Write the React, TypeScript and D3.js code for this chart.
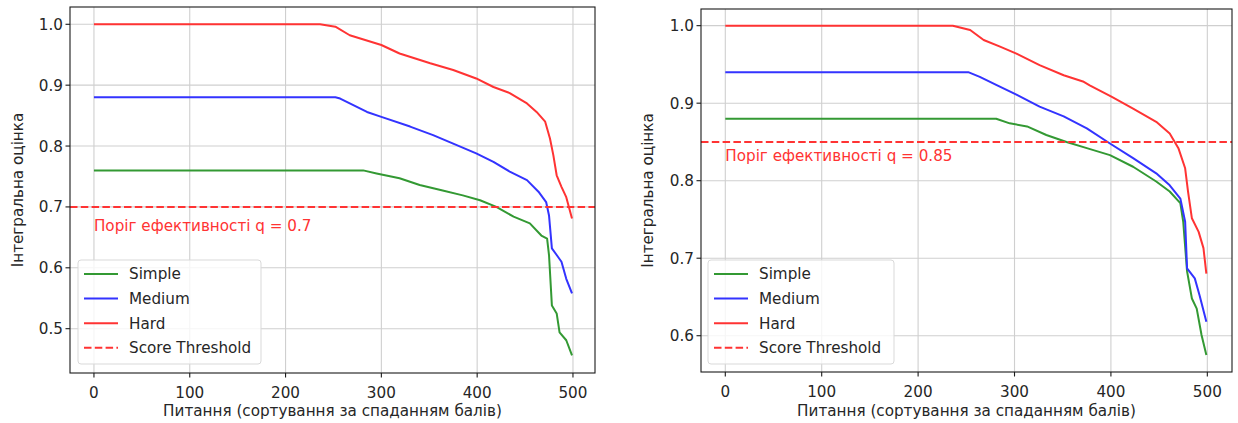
import React from "react";
import * as d3 from "d3";

type Pt = [number, number];

const SERIES_NAMES = ["Simple", "Medium", "Hard"];
const THRESHOLD_NAME = "Score Threshold";
const X_LABEL = "Питання (сортування за спаданням балів)";
const Y_LABEL = "Інтегральна оцінка";
const X_TICKS = [0, 100, 200, 300, 400, 500];
const LEFT_Y_TICKS = [0.5, 0.6, 0.7, 0.8, 0.9, 1.0];
const RIGHT_Y_TICKS = [0.6, 0.7, 0.8, 0.9, 1.0];
const LEFT_THRESHOLD = 0.7;
const RIGHT_THRESHOLD = 0.85;

const LEFT_SIMPLE: Pt[] = [[0,0.76],[281,0.76],[295,0.755],[319,0.747],[340,0.736],[364,0.727],[385,0.719],[403,0.711],[420,0.700],[438,0.684],[455,0.673],[467,0.653],[473,0.648],[475,0.621],[478,0.538],[483,0.525],[486,0.494],[493,0.481],[499,0.456]];
const LEFT_MEDIUM: Pt[] = [[0,0.88],[252,0.88],[257,0.878],[285,0.856],[300,0.848],[330,0.832],[354,0.818],[375,0.804],[399,0.788],[417,0.774],[434,0.758],[452,0.744],[464,0.725],[472,0.708],[475,0.686],[478,0.632],[483,0.621],[488,0.610],[493,0.582],[499,0.558]];
const LEFT_HARD: Pt[] = [[0,1.0],[236,1.0],[252,0.996],[267,0.982],[300,0.966],[319,0.952],[351,0.936],[375,0.925],[399,0.911],[417,0.897],[434,0.887],[452,0.870],[462,0.856],[471,0.840],[476,0.8125],[479.5,0.785],[483,0.752],[488,0.733],[493,0.716],[499,0.681]];

const RIGHT_SIMPLE: Pt[] = [[0,0.88],[281,0.88],[295,0.874],[313,0.870],[333,0.859],[354,0.850],[375,0.842],[399,0.833],[423,0.818],[447,0.799],[461,0.786],[472,0.771],[475,0.747],[479,0.683],[484,0.648],[489,0.635],[494,0.601],[499,0.575]];
const RIGHT_MEDIUM: Pt[] = [[0,0.94],[252,0.94],[264,0.934],[281,0.9235],[302,0.911],[326,0.8955],[351,0.883],[375,0.8676],[399,0.848],[423,0.829],[447,0.8095],[461,0.794],[472,0.777],[477,0.747],[479,0.687],[487,0.674],[492,0.652],[499,0.618]];
const RIGHT_HARD: Pt[] = [[0,1.0],[236,1.0],[254,0.9945],[268,0.9815],[285,0.973],[302,0.964],[326,0.949],[351,0.936],[371,0.928],[378,0.923],[401,0.908],[423,0.893],[447,0.876],[461,0.861],[470,0.842],[477,0.816],[480,0.786],[484,0.7515],[491,0.734],[496,0.713],[499,0.680]];

const COLORS = ["#339933", "#3333ff", "#ff3333"];
const FONT = "DejaVu Sans, Verdana, sans-serif";
const FS = 15.2;

interface PanelProps {
  box: { left: number; top: number; right: number; bottom: number };
  xDomain: [number, number];
  yDomain: [number, number];
  yTicks: number[];
  series: Pt[][];
  threshold: number;
  thresholdLabelY: number;
  legend: { x: number; y: number; w: number; h: number };
  yLabelX: number;
}

function Panel(p: PanelProps) {
  const { box } = p;
  const x = d3.scaleLinear().domain(p.xDomain).range([box.left, box.right]);
  const y = d3.scaleLinear().domain(p.yDomain).range([box.bottom, box.top]);
  const line = d3.line<Pt>().x((d) => x(d[0])).y((d) => y(d[1]));
  const clipId = `clip-${box.left}`;
  const rowH = 24.6;
  return (
    <g fontFamily={FONT} fontSize={FS} fill="#262626">
      <defs>
        <clipPath id={clipId}>
          <rect x={box.left} y={box.top} width={box.right - box.left} height={box.bottom - box.top} />
        </clipPath>
      </defs>
      {X_TICKS.map((t) => (
        <line key={"gx" + t} x1={x(t)} x2={x(t)} y1={box.top} y2={box.bottom} stroke="#cfcfcf" strokeWidth={1.1} />
      ))}
      {p.yTicks.map((t) => (
        <line key={"gy" + t} x1={box.left} x2={box.right} y1={y(t)} y2={y(t)} stroke="#cfcfcf" strokeWidth={1.1} />
      ))}
      <g clipPath={`url(#${clipId})`}>
        {p.series.map((s, i) => (
          <path key={i} d={line(s) || ""} fill="none" stroke={COLORS[i]} strokeWidth={2} strokeLinejoin="round" />
        ))}
        <line x1={box.left} x2={box.right} y1={y(p.threshold)} y2={y(p.threshold)} stroke="#ff3333" strokeWidth={2} strokeDasharray="7.5,3.3" />
      </g>
      <text x={x(0)} y={y(p.thresholdLabelY)} fill="#ff3333">
        {`Поріг ефективності q = ${p.threshold}`}
      </text>
      <rect x={box.left} y={box.top} width={box.right - box.left} height={box.bottom - box.top} fill="none" stroke="#1a1a1a" strokeWidth={1.1} />
      {X_TICKS.map((t) => (
        <g key={"tx" + t}>
          <line x1={x(t)} x2={x(t)} y1={box.bottom} y2={box.bottom + 4.5} stroke="#1a1a1a" strokeWidth={1.1} />
          <text x={x(t)} y={box.bottom + 25} textAnchor="middle">{t}</text>
        </g>
      ))}
      {p.yTicks.map((t) => (
        <g key={"ty" + t}>
          <line x1={box.left - 4.5} x2={box.left} y1={y(t)} y2={y(t)} stroke="#1a1a1a" strokeWidth={1.1} />
          <text x={box.left - 7} y={y(t)} dy="0.36em" textAnchor="end">{t.toFixed(1)}</text>
        </g>
      ))}
      <text x={(box.left + box.right) / 2} y={416} textAnchor="middle">{X_LABEL}</text>
      <text transform={`translate(${p.yLabelX},${(box.top + box.bottom) / 2}) rotate(-90)`} textAnchor="middle" dy="0.36em">{Y_LABEL}</text>
      <g>
        <rect x={p.legend.x} y={p.legend.y} width={p.legend.w} height={p.legend.h} rx={3} fill="white" fillOpacity={0.8} stroke="#d9d9d9" strokeWidth={1} />
        {[...SERIES_NAMES, THRESHOLD_NAME].map((name, i) => {
          const cy = p.legend.y + 14 + i * rowH;
          return (
            <g key={name}>
              <line x1={p.legend.x + 6} x2={p.legend.x + 40} y1={cy} y2={cy} stroke={i < 3 ? COLORS[i] : "#ff3333"} strokeWidth={2} strokeDasharray={i < 3 ? undefined : "7.5,3.3"} />
              <text x={p.legend.x + 51} y={cy} dy="0.36em">{name}</text>
            </g>
          );
        })}
      </g>
    </g>
  );
}

export default function App() {
  return (
    <svg width={1238} height={423} style={{ position: "absolute", left: 0, top: 0, background: "white" }}>
      <rect width={1238} height={423} fill="white" />
      <Panel
        box={{ left: 70, top: 7, right: 595, bottom: 373 }}
        xDomain={[-25, 523]}
        yDomain={[0.4272, 1.0284]}
        yTicks={LEFT_Y_TICKS}
        series={[LEFT_SIMPLE, LEFT_MEDIUM, LEFT_HARD]}
        threshold={LEFT_THRESHOLD}
        thresholdLabelY={LEFT_THRESHOLD - 0.04}
        legend={{ x: 78, y: 260, w: 183, h: 104 }}
        yLabelX={18}
      />
      <Panel
        box={{ left: 701, top: 9, right: 1232, bottom: 372 }}
        xDomain={[-25.2, 525.6]}
        yDomain={[0.5532, 1.0215]}
        yTicks={RIGHT_Y_TICKS}
        series={[RIGHT_SIMPLE, RIGHT_MEDIUM, RIGHT_HARD]}
        threshold={RIGHT_THRESHOLD}
        thresholdLabelY={RIGHT_THRESHOLD - 0.025}
        legend={{ x: 708, y: 260, w: 186, h: 104 }}
        yLabelX={648}
      />
    </svg>
  );
}
